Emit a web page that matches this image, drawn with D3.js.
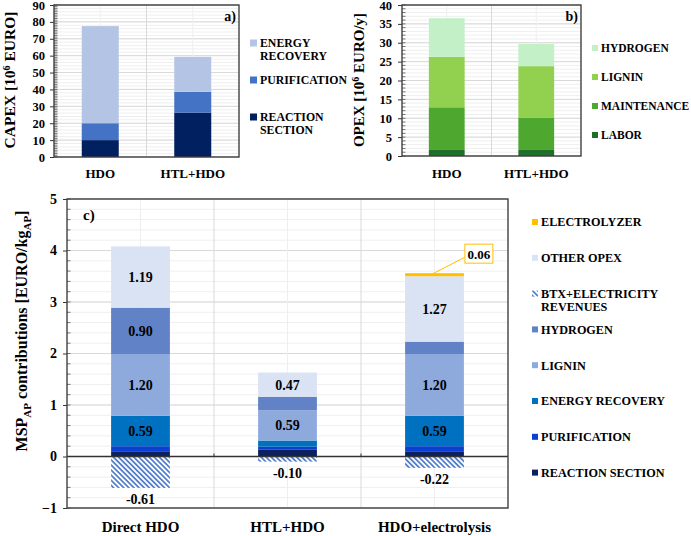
<!DOCTYPE html>
<html>
<head>
<meta charset="utf-8">
<script src="https://cdn.jsdelivr.net/npm/d3@7"></script>
<style>
  body { margin: 0; background: #fff; }
  text { font-family: "Liberation Serif", "Times New Roman", serif; font-weight: bold; fill: #000; }
</style>
</head>
<body>
<svg id="chart" width="691" height="536"></svg>
<script>
// ---- panel a: CAPEX ----
const capexCats = ["HDO", "HTL+HDO"];
const capexReaction = [10.0, 26.3];
const capexPurification = [10.0, 12.3];
const capexEnergy = [57.5, 20.7];
const capexTicks = [0, 10, 20, 30, 40, 50, 60, 70, 80, 90];

// ---- panel b: OPEX ----
const opexCats = ["HDO", "HTL+HDO"];
const opexLabor = [1.6, 1.6];
const opexMaintenance = [11.3, 8.6];
const opexLignin = [13.4, 13.6];
const opexHydrogen = [10.2, 5.9];
const opexTicks = [0, 5, 10, 15, 20, 25, 30, 35, 40];

// ---- panel c: MSP contributions ----
const mspCats = ["Direct HDO", "HTL+HDO", "HDO+electrolysis"];
const mspReaction = [0.09, 0.13, 0.09];
const mspPurification = [0.11, 0.06, 0.11];
const mspEnergy = [0.59, 0.12, 0.59];
const mspLignin = [1.20, 0.59, 1.20];
const mspHydrogen = [0.90, 0.26, 0.24];
const mspOther = [1.19, 0.47, 1.27];
const mspElectrolyzer = [0, 0, 0.06];
const mspRevenues = [-0.61, -0.10, -0.22];
const mspTicks = [-1, 0, 1, 2, 3, 4, 5];

const svg = d3.select("#chart");
const HATCH = "#4a78c8";

const defs = svg.append("defs");
const pat = defs.append("pattern").attr("id", "hatch")
  .attr("patternUnits", "userSpaceOnUse").attr("width", 3.6).attr("height", 3.6)
  .attr("patternTransform", "rotate(-45)");
pat.append("rect").attr("width", 3.6).attr("height", 3.6).attr("fill", "#fff");
pat.append("line").attr("x1", 1.8).attr("x2", 1.8).attr("y1", 0).attr("y2", 3.6)
  .attr("stroke", HATCH).attr("stroke-width", 1.7);
defs.append("clipPath").attr("id", "clipA").append("rect")
  .attr("x", 0).attr("y", 0).attr("width", 347).attr("height", 195);

// frame, grid and axis for one panel
function drawFrame(g, o) {
  const x = d3.scaleBand().domain(o.cats).range([o.left, o.right]);
  const y = d3.scaleLinear().domain(o.domain).range([o.bottom, o.top]);
  const minor = d3.range(o.domain[0], o.domain[1] + 1e-9, o.minor);
  const minorTick = d3.range(o.domain[0], o.domain[1] + 1e-9, o.minorTick);

  g.append("g").selectAll("line").data(minor).join("line")
    .attr("x1", o.left).attr("x2", o.right)
    .attr("y1", d => y(d)).attr("y2", d => y(d))
    .attr("stroke", "#efefef").attr("stroke-width", 1);
  g.append("g").selectAll("line").data(o.ticks).join("line")
    .attr("x1", o.left).attr("x2", o.right)
    .attr("y1", d => y(d)).attr("y2", d => y(d))
    .attr("stroke", "#d9d9d9").attr("stroke-width", 1);
  // vertical grid: centres faint, boundaries stronger
  g.append("g").selectAll("line").data(o.cats).join("line")
    .attr("x1", d => x(d) + x.bandwidth() / 2).attr("x2", d => x(d) + x.bandwidth() / 2)
    .attr("y1", o.top).attr("y2", o.bottom).attr("stroke", "#efefef");
  g.append("g").selectAll("line").data(o.cats.slice(1)).join("line")
    .attr("x1", d => x(d)).attr("x2", d => x(d))
    .attr("y1", o.top).attr("y2", o.bottom).attr("stroke", "#d9d9d9");

  // minor ticks (inside)
  g.append("g").selectAll("line").data(minorTick).join("line")
    .attr("x1", o.left).attr("x2", o.left + 3.5)
    .attr("y1", d => y(d)).attr("y2", d => y(d))
    .attr("stroke", "#555").attr("stroke-width", 0.8);

  const ax = g.append("g").attr("transform", `translate(${o.left},0)`)
    .call(d3.axisLeft(y).tickValues(o.ticks).tickSize(4).tickPadding(o.yPad).tickFormat(d3.format("d")));
  ax.select(".domain").remove();
  ax.selectAll(".tick line").attr("stroke", "#333");
  ax.selectAll("text").attr("font-size", o.tickSize)
    .attr("font-family", "Liberation Serif").attr("font-weight", "bold");

  const xa = g.append("g").attr("transform", `translate(0,${o.bottom})`)
    .call(d3.axisBottom(x).tickSize(0).tickPadding(o.xPad));
  xa.select(".domain").remove();
  xa.selectAll("text").attr("font-size", o.xSize)
    .attr("font-family", "Liberation Serif").attr("font-weight", "bold");
  return { x, y };
}

function drawBorder(g, o) {
  g.append("rect").attr("x", o.left).attr("y", o.top)
    .attr("width", o.right - o.left).attr("height", o.bottom - o.top)
    .attr("fill", "none").attr("stroke", "#404040").attr("stroke-width", 1.4);
}

function drawStack(g, sc, cats, series, frac) {
  const rows = cats.map((c, i) => {
    const r = { cat: c };
    series.forEach(s => r[s.name] = s.values[i]);
    return r;
  });
  const stacked = d3.stack().keys(series.map(s => s.name))(rows);
  const bw = sc.x.bandwidth() * frac;
  stacked.forEach((layer, li) => {
    g.append("g").selectAll("rect").data(layer).join("rect")
      .attr("x", d => sc.x(d.data.cat) + (sc.x.bandwidth() - bw) / 2)
      .attr("width", bw)
      .attr("y", d => sc.y(d[1]))
      .attr("height", d => sc.y(d[0]) - sc.y(d[1]))
      .attr("fill", series[li].color);
  });
  return { stacked, bw };
}

function drawLegend(g, items, x, y0, step, size, sq, gap) {
  items.forEach((it, i) => {
    const yy = y0 + i * step;
    g.append("rect").attr("x", x).attr("y", yy - sq / 2).attr("width", sq).attr("height", sq)
      .attr("fill", it.color);
    const t = g.append("text").attr("x", x + gap).attr("y", yy + size * 0.36).attr("font-size", size);
    it.lines.forEach((ln, k) => t.append("tspan").attr("x", x + gap).attr("dy", k ? "1.1em" : 0).text(ln));
  });
}

// ================= panel a =================
{
  const g = svg.append("g").attr("clip-path", "url(#clipA)");
  const o = { left: 54, right: 239, top: 5, bottom: 157, cats: capexCats, domain: [0, 90],
    ticks: capexTicks, minor: 2, minorTick: 1, tickSize: 12.5, yPad: 5, xSize: 13, xPad: 12 };
  const sc = drawFrame(g, o);
  const series = [
    { name: "REACTION SECTION", values: capexReaction, color: "#002060" },
    { name: "PURIFICATION", values: capexPurification, color: "#4472c4" },
    { name: "ENERGY RECOVERY", values: capexEnergy, color: "#b4c4e4" }
  ];
  drawStack(g, sc, capexCats, series, 0.4);
  drawBorder(g, o);
  g.append("text").attr("x", 236).attr("y", 21).attr("text-anchor", "end").attr("font-size", 14).text("a)");
  const t = g.append("text").attr("transform", "translate(15,80) rotate(-90)")
    .attr("text-anchor", "middle").attr("font-size", 15.5);
  t.append("tspan").text("CAPEX [10");
  t.append("tspan").attr("dy", -5).attr("font-size", 10).text("6");
  t.append("tspan").attr("dy", 5).text(" EURO]");
  drawLegend(g, [
    { lines: ["ENERGY", "RECOVERY"], color: series[2].color },
    { lines: ["PURIFICATION"], color: series[1].color },
    { lines: ["REACTION", "SECTION"], color: series[0].color }
  ], 250, 43, 37, 11.8, 7, 10);
}

// ================= panel b =================
{
  const g = svg.append("g");
  const o = { left: 402, right: 581, top: 5, bottom: 156, cats: opexCats, domain: [0, 40],
    ticks: opexTicks, minor: 1, minorTick: 1, tickSize: 12.5, yPad: 6, xSize: 13, xPad: 13 };
  const sc = drawFrame(g, o);
  const series = [
    { name: "LABOR", values: opexLabor, color: "#1f6e2a" },
    { name: "MAINTENANCE", values: opexMaintenance, color: "#4ea72e" },
    { name: "LIGNIN", values: opexLignin, color: "#92d050" },
    { name: "HYDROGEN", values: opexHydrogen, color: "#c4f0c8" }
  ];
  drawStack(g, sc, opexCats, series, 0.4);
  drawBorder(g, o);
  g.append("text").attr("x", 578).attr("y", 21).attr("text-anchor", "end").attr("font-size", 14).text("b)");
  const t = g.append("text").attr("transform", "translate(364,80) rotate(-90)")
    .attr("text-anchor", "middle").attr("font-size", 15);
  t.append("tspan").text("OPEX [10");
  t.append("tspan").attr("dy", -5).attr("font-size", 10).text("6");
  t.append("tspan").attr("dy", 5).text(" EURO/y]");
  drawLegend(g, [
    { lines: ["HYDROGEN"], color: series[3].color },
    { lines: ["LIGNIN"], color: series[2].color },
    { lines: ["MAINTENANCE"], color: series[1].color },
    { lines: ["LABOR"], color: series[0].color }
  ], 592, 48, 29, 11.5, 6, 9);
}

// ================= panel c =================
{
  const g = svg.append("g");
  const o = { left: 67, right: 508, top: 199, bottom: 508, cats: mspCats, domain: [-1, 5],
    ticks: mspTicks, minor: 0.2, minorTick: 0.2, tickSize: 14, yPad: 6, xSize: 15, xPad: 13 };
  const sc = drawFrame(g, o);
  const series = [
    { name: "REACTION SECTION", values: mspReaction, color: "#0c1f5e" },
    { name: "PURIFICATION", values: mspPurification, color: "#0b3fd1" },
    { name: "ENERGY RECOVERY", values: mspEnergy, color: "#0070c0" },
    { name: "LIGNIN", values: mspLignin, color: "#8eaadc" },
    { name: "HYDROGEN", values: mspHydrogen, color: "#6182c6" },
    { name: "OTHER OPEX", values: mspOther, color: "#dae3f3" },
    { name: "ELECTROLYZER", values: mspElectrolyzer, color: "#ffc000" }
  ];
  const { stacked, bw } = drawStack(g, sc, mspCats, series, 0.4);

  // negative revenues (hatched)
  g.append("g").selectAll("rect").data(mspRevenues).join("rect")
    .attr("x", (d, i) => sc.x(mspCats[i]) + (sc.x.bandwidth() - bw) / 2)
    .attr("width", bw).attr("y", sc.y(0)).attr("height", d => sc.y(d) - sc.y(0))
    .attr("fill", "url(#hatch)");
  g.append("g").selectAll("text").data(mspRevenues).join("text")
    .attr("x", (d, i) => sc.x(mspCats[i]) + sc.x.bandwidth() / 2)
    .attr("y", d => sc.y(d) + 16).attr("text-anchor", "middle").attr("font-size", 14)
    .text(d => d.toFixed(2));

  // value labels inside the large segments
  stacked.slice(0, 6).forEach(layer => {
    g.append("g").selectAll("text").data(layer.filter(d => d[1] - d[0] >= 0.4)).join("text")
      .attr("x", d => sc.x(d.data.cat) + sc.x.bandwidth() / 2)
      .attr("y", d => (sc.y(d[0]) + sc.y(d[1])) / 2 + 5)
      .attr("text-anchor", "middle").attr("font-size", 14)
      .text(d => (d[1] - d[0]).toFixed(2));
  });

  // zero line
  g.append("line").attr("x1", o.left).attr("x2", o.right)
    .attr("y1", sc.y(0)).attr("y2", sc.y(0)).attr("stroke", "#333").attr("stroke-width", 1.3);
  g.append("g").selectAll("line").data(mspCats.slice(1)).join("line")
    .attr("x1", d => sc.x(d)).attr("x2", d => sc.x(d))
    .attr("y1", sc.y(0) - 3).attr("y2", sc.y(0)).attr("stroke", "#333");

  // electrolyzer callout
  const elec = stacked[6][2];
  const bx = sc.x(mspCats[2]) + sc.x.bandwidth() / 2 + bw / 2;
  const by = sc.y(elec[1]);
  g.append("line").attr("x1", bx - 30).attr("y1", by).attr("x2", bx + 1).attr("y2", by - 16)
    .attr("stroke", "#ffc000").attr("stroke-width", 1);
  g.append("rect").attr("x", bx + 1).attr("y", by - 29).attr("width", 28).attr("height", 19)
    .attr("fill", "#fff").attr("stroke", "#ffc000").attr("stroke-width", 1);
  g.append("text").attr("x", bx + 15).attr("y", by - 14.5).attr("text-anchor", "middle")
    .attr("font-size", 13).text(mspElectrolyzer[2].toFixed(2));

  drawBorder(g, o);
  g.append("text").attr("x", 83).attr("y", 220).attr("font-size", 15).text("c)");

  const t = g.append("text").attr("transform", "translate(27,331) rotate(-90)")
    .attr("text-anchor", "middle").attr("font-size", 16);
  t.append("tspan").text("MSP");
  t.append("tspan").attr("dy", 4).attr("font-size", 11).text("AP");
  t.append("tspan").attr("dy", -4).text(" contributions [EURO/kg");
  t.append("tspan").attr("dy", 4).attr("font-size", 11).text("AP");
  t.append("tspan").attr("dy", -4).text("]");

  const lg = [
    { lines: ["ELECTROLYZER"], color: "#ffc000" },
    { lines: ["OTHER OPEX"], color: "#dae3f3" },
    { lines: ["BTX+ELECTRICITY", "REVENUES"], color: "url(#hatch)" },
    { lines: ["HYDROGEN"], color: "#6182c6" },
    { lines: ["LIGNIN"], color: "#8eaadc" },
    { lines: ["ENERGY RECOVERY"], color: "#0070c0" },
    { lines: ["PURIFICATION"], color: "#0b3fd1" },
    { lines: ["REACTION SECTION"], color: "#0c1f5e" }
  ];
  drawLegend(g, lg, 532, 222, 35.8, 12.2, 6, 9);
}
</script>
</body>
</html>
